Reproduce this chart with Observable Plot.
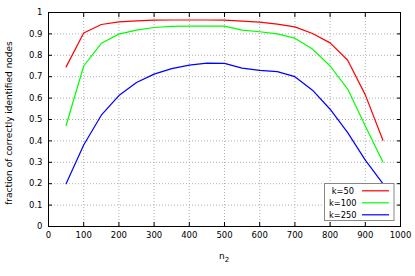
<!DOCTYPE html>
<html>
<head>
<meta charset="utf-8">
<script src="https://cdn.jsdelivr.net/npm/d3@7"></script>
<script src="https://cdn.jsdelivr.net/npm/@observablehq/plot@0.6"></script>
<style>
  html, body { margin: 0; padding: 0; background: #fff; }
  #chart svg { display: block; }
</style>
</head>
<body>
<div id="chart"></div>
<script>
const n2 = [50, 100, 150, 200, 250, 300, 350, 400, 450, 500, 550, 600, 650, 700, 750, 800, 850, 900, 950];
const k50 = [0.746, 0.904, 0.944, 0.956, 0.961, 0.964, 0.965, 0.965, 0.965, 0.964, 0.960, 0.955, 0.946, 0.933, 0.902, 0.858, 0.777, 0.615, 0.403];
const k100 = [0.472, 0.750, 0.856, 0.899, 0.918, 0.930, 0.935, 0.936, 0.936, 0.936, 0.918, 0.910, 0.900, 0.880, 0.829, 0.750, 0.642, 0.470, 0.301];
const k250 = [0.200, 0.381, 0.520, 0.612, 0.673, 0.712, 0.738, 0.754, 0.763, 0.762, 0.740, 0.730, 0.724, 0.700, 0.637, 0.548, 0.439, 0.310, 0.200];
const seriesNames = ["k=50", "k=100", "k=250"];
const seriesColors = ["#ff0000", "#00ff00", "#0000ff"];
const xTicks = [0, 100, 200, 300, 400, 500, 600, 700, 800, 900, 1000];
const yTicks = [0, 0.1, 0.2, 0.3, 0.4, 0.5, 0.6, 0.7, 0.8, 0.9, 1];
const xLabelMain = "n";
const xLabelSub = "2";
const yLabel = "fraction of correctly identified nodes";

const allSeries = [k50, k100, k250];
const rows = [];
allSeries.forEach((vals, s) => vals.forEach((v, i) => rows.push({n2: n2[i], value: v, k: seriesNames[s]})));

const font = "DejaVu Sans";
const fmt = d => String(d);

const plot = Plot.plot({
  width: 415,
  height: 276,
  marginLeft: 48,
  marginRight: 15,
  marginTop: 12,
  marginBottom: 50,
  style: {fontFamily: font, fontSize: "8.5px", color: "#000", background: "#fff"},
  x: {domain: [0, 1000]},
  y: {domain: [0, 1]},
  color: {domain: seriesNames, range: seriesColors},
  marks: [
    Plot.gridX(xTicks, {stroke: "#b0b0b0", strokeOpacity: 1, strokeDasharray: "1,2"}),
    Plot.gridY(yTicks, {stroke: "#b0b0b0", strokeOpacity: 1, strokeDasharray: "1,2"}),
    Plot.axisX(xTicks, {anchor: "bottom", tickSize: 0, tickPadding: 5, tickFormat: fmt, label: null, fontSize: 8.5}),
    Plot.axisX(xTicks, {anchor: "bottom", tickSize: -4, tickFormat: () => "", label: null, stroke: "#000"}),
    Plot.axisX(xTicks, {anchor: "top", tickSize: -4, tickFormat: () => "", label: null, stroke: "#000"}),
    Plot.axisY(yTicks, {anchor: "left", tickSize: 0, tickPadding: 6, tickFormat: fmt, label: null, fontSize: 8.5}),
    Plot.axisY(yTicks, {anchor: "left", tickSize: -4, tickFormat: () => "", label: null, stroke: "#000"}),
    Plot.axisY(yTicks, {anchor: "right", tickSize: -4, tickFormat: () => "", label: null, stroke: "#000"}),
    Plot.line(rows, {x: "n2", y: "value", z: "k", stroke: "k", strokeWidth: 1.2}),
    Plot.frame({stroke: "#000", strokeWidth: 1})
  ]
});

const svg = d3.select(plot);

// axis titles
const xt = svg.append("text").attr("x", 224).attr("y", 258.5).attr("text-anchor", "middle")
  .attr("font-family", font).attr("font-size", 9).attr("fill", "#000");
xt.append("tspan").text(xLabelMain);
xt.append("tspan").attr("font-size", 7).attr("dy", 3).text(xLabelSub);

svg.append("text").attr("transform", "translate(11.5,123) rotate(-90)").attr("text-anchor", "middle")
  .attr("font-family", font).attr("font-size", 9).attr("fill", "#000").text(yLabel);

// legend box inside plot (bottom-right)
const lg = svg.append("g").attr("font-family", font).attr("font-size", 8.3);
lg.append("rect").attr("x", 324.5).attr("y", 183.5).attr("width", 69.5).attr("height", 37)
  .attr("fill", "#fff").attr("stroke", "#888").attr("stroke-width", 1);
seriesNames.forEach((name, i) => {
  const cy = 190.8 + i * 12;
  lg.append("text").attr("x", 342.8).attr("y", cy).attr("dy", "0.35em").attr("text-anchor", "middle").attr("fill", "#000").text(name);
  lg.append("line").attr("x1", 362).attr("x2", 389).attr("y1", cy).attr("y2", cy)
    .attr("stroke", seriesColors[i]).attr("stroke-width", 1.2);
});

document.getElementById("chart").appendChild(plot);
</script>
</body>
</html>
